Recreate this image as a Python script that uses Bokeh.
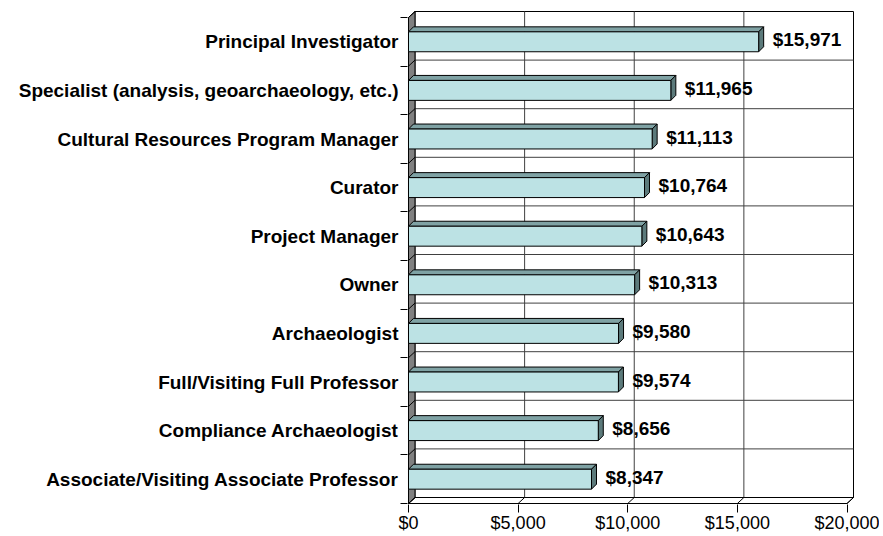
from bokeh.plotting import figure
from bokeh.models import Range1d, FixedTicker, NumeralTickFormatter, ColumnDataSource
from bokeh.embed import file_html
from bokeh.resources import INLINE
from bokeh.core.properties import value

# ---- data ----
categories = [
    "Principal Investigator",
    "Specialist (analysis, geoarchaeology, etc.)",
    "Cultural Resources Program Manager",
    "Curator",
    "Project Manager",
    "Owner",
    "Archaeologist",
    "Full/Visiting Full Professor",
    "Compliance Archaeologist",
    "Associate/Visiting Associate Professor",
]
salaries = [15971, 11965, 11113, 10764, 10643, 10313, 9580, 9574, 8656, 8347]
x_ticks = [0, 5000, 10000, 15000, 20000]
x_max = 20000

# ---- geometry (pixel-based depth converted to data units) ----
n = len(categories)
SX = 439.0 / x_max      # px per x unit
SY = 48.6               # px per category band
WX, WY = 6.5 / SX, 6.0 / SY     # wall depth
BX, BY = 5.0 / SX, 5.0 / SY     # bar depth
PX, PY = 1.0 / SX, 1.0 / SY     # 1px padding
H = 0.41

FONT = "Liberation Sans"

p = figure(
    frame_width=447, frame_height=494,
    min_border_left=407, min_border_right=25, min_border_top=10, min_border_bottom=31,
    x_range=Range1d(-PX, x_max + WX + PX),
    y_range=Range1d(-PY, n + WY + PY),
    output_backend="svg", toolbar_location=None,
    background_fill_color="white", border_fill_color="white",
)
p.outline_line_color = None
p.grid.visible = False

edge = "#000000"
grid = "#404040"

# back wall
p.quad(left=WX, right=x_max + WX, bottom=WY, top=n + WY,
       fill_color="white", line_color=edge, line_width=1)
# vertical gridlines on back wall
p.segment(x0=[t + WX for t in x_ticks[1:-1]], y0=[WY] * (len(x_ticks) - 2),
          x1=[t + WX for t in x_ticks[1:-1]], y1=[n + WY] * (len(x_ticks) - 2),
          line_color=grid, line_width=1)
# horizontal gridlines on back wall
p.segment(x0=[WX] * (n - 1), y0=[k + WY for k in range(1, n)],
          x1=[x_max + WX] * (n - 1), y1=[k + WY for k in range(1, n)],
          line_color=grid, line_width=1)
# floor
p.patch(x=[0, x_max, x_max + WX, WX], y=[0, 0, WY, WY],
        fill_color="white", line_color=edge, line_width=1)
p.segment(x0=x_ticks, y0=[0] * len(x_ticks),
          x1=[t + WX for t in x_ticks], y1=[WY] * len(x_ticks),
          line_color=edge, line_width=1)
# left wall
p.patch(x=[0, WX, WX, 0], y=[0, WY, n + WY, n],
        fill_color="#808080", line_color=edge, line_width=1)
p.segment(x0=[0] * (n + 1), y0=list(range(n + 1)),
          x1=[WX] * (n + 1), y1=[k + WY for k in range(n + 1)],
          line_color=edge, line_width=1)

# bars
centers = [n - i - 0.5 for i in range(n)]
tops_x, tops_y, side_x, side_y = [], [], [], []
for c, v in zip(centers, salaries):
    t, b = c + H / 2, c - H / 2
    tops_x.append([0, v, v + BX, BX])
    tops_y.append([t, t, t + BY, t + BY])
    side_x.append([v, v + BX, v + BX, v])
    side_y.append([b, b + BY, t + BY, t])

p.patches(xs=tops_x, ys=tops_y, fill_color="#7FA2A4", line_color=edge, line_width=1)
p.patches(xs=side_x, ys=side_y, fill_color="#5C7A7B", line_color=edge, line_width=1)
src = ColumnDataSource(dict(
    left=[0] * n, right=salaries,
    bottom=[c - H / 2 for c in centers], top=[c + H / 2 for c in centers],
    y=centers, x=[v + BX for v in salaries],
    label=[f"${v:,}" for v in salaries],
))
p.quad(left="left", right="right", bottom="bottom", top="top", source=src,
       fill_color="#BCE2E4", line_color=edge, line_width=1)

p.text(x="x", y="y", text="label", source=src, x_offset=9, y_offset=-2,
       text_font=value(FONT), text_font_style="bold", text_font_size="19px",
       text_color="black", text_align="left", text_baseline="middle")

# x axis
xa = p.xaxis[0]
xa.ticker = FixedTicker(ticks=x_ticks, minor_ticks=[])
xa.formatter = NumeralTickFormatter(format="$0,0")
xa.axis_line_color = None
xa.major_tick_in = 0
xa.major_tick_out = 8
xa.major_tick_line_color = "black"
xa.minor_tick_line_color = None
xa.major_label_standoff = 0
xa.major_label_text_font = FONT
xa.major_label_text_font_size = "18px"
xa.major_label_text_color = "black"

# y axis
ya = p.yaxis[0]
ya.ticker = FixedTicker(ticks=centers, minor_ticks=list(range(n + 1)))
ya.major_label_overrides = {c: name for c, name in zip(centers, categories)}
ya.axis_line_color = None
ya.major_tick_in = 0
ya.major_tick_out = 0
ya.minor_tick_in = 0
ya.minor_tick_out = 7
ya.minor_tick_line_color = "black"
ya.major_label_standoff = 2
ya.major_label_text_font = FONT
ya.major_label_text_font_style = "bold"
ya.major_label_text_font_size = "19px"
ya.major_label_text_color = "black"

open("out.html", "w").write(file_html(p, INLINE))
